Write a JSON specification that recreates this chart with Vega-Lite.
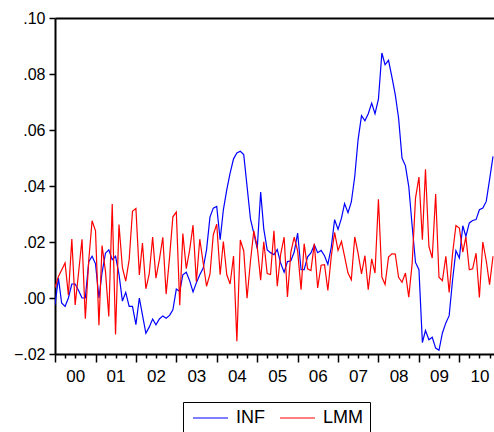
{
  "$schema": "https://vega.github.io/schema/vega-lite/v6.json",
  "width": 439,
  "height": 336,
  "autosize": "none",
  "padding": {"left": 55, "top": 18, "right": 0, "bottom": 78},
  "background": "white",
  "config": {
    "view": {"stroke": null},
    "font": "Liberation Sans",
    "axis": {"labelFont": "Liberation Sans", "labelColor": "black", "tickColor": "black", "domainColor": "black", "grid": false, "title": null}
  },
  "data": {"values": [
    {"date":"2000-01-01","series":"INF","value":-0.0024},{"date":"2000-02-01","series":"INF","value":0.0071},{"date":"2000-03-01","series":"INF","value":-0.0018},{"date":"2000-04-01","series":"INF","value":-0.003},{"date":"2000-05-01","series":"INF","value":0.0},{"date":"2000-06-01","series":"INF","value":0.005},{"date":"2000-07-01","series":"INF","value":0.005},{"date":"2000-08-01","series":"INF","value":0.0027},{"date":"2000-09-01","series":"INF","value":0.0},{"date":"2000-10-01","series":"INF","value":0.0},{"date":"2000-11-01","series":"INF","value":0.013},{"date":"2000-12-01","series":"INF","value":0.0149},
    {"date":"2001-01-01","series":"INF","value":0.0122},{"date":"2001-02-01","series":"INF","value":0.0},{"date":"2001-03-01","series":"INF","value":0.009},{"date":"2001-04-01","series":"INF","value":0.016},{"date":"2001-05-01","series":"INF","value":0.0172},{"date":"2001-06-01","series":"INF","value":0.0137},{"date":"2001-07-01","series":"INF","value":0.0149},{"date":"2001-08-01","series":"INF","value":0.0085},{"date":"2001-09-01","series":"INF","value":-0.0011},{"date":"2001-10-01","series":"INF","value":0.002},{"date":"2001-11-01","series":"INF","value":-0.003},{"date":"2001-12-01","series":"INF","value":-0.003},
    {"date":"2002-01-01","series":"INF","value":-0.0095},{"date":"2002-02-01","series":"INF","value":0.0},{"date":"2002-03-01","series":"INF","value":-0.006},{"date":"2002-04-01","series":"INF","value":-0.0126},{"date":"2002-05-01","series":"INF","value":-0.0104},{"date":"2002-06-01","series":"INF","value":-0.0075},{"date":"2002-07-01","series":"INF","value":-0.0096},{"date":"2002-08-01","series":"INF","value":-0.0075},{"date":"2002-09-01","series":"INF","value":-0.0064},{"date":"2002-10-01","series":"INF","value":-0.0072},{"date":"2002-11-01","series":"INF","value":-0.0062},{"date":"2002-12-01","series":"INF","value":-0.0042},
    {"date":"2003-01-01","series":"INF","value":0.0032},{"date":"2003-02-01","series":"INF","value":0.0023},{"date":"2003-03-01","series":"INF","value":0.0083},{"date":"2003-04-01","series":"INF","value":0.0092},{"date":"2003-05-01","series":"INF","value":0.0062},{"date":"2003-06-01","series":"INF","value":0.0022},{"date":"2003-07-01","series":"INF","value":0.0054},{"date":"2003-08-01","series":"INF","value":0.0083},{"date":"2003-09-01","series":"INF","value":0.0107},{"date":"2003-10-01","series":"INF","value":0.0172},{"date":"2003-11-01","series":"INF","value":0.0289},{"date":"2003-12-01","series":"INF","value":0.0321},
    {"date":"2004-01-01","series":"INF","value":0.0327},{"date":"2004-02-01","series":"INF","value":0.0208},{"date":"2004-03-01","series":"INF","value":0.0315},{"date":"2004-04-01","series":"INF","value":0.0387},{"date":"2004-05-01","series":"INF","value":0.0446},{"date":"2004-06-01","series":"INF","value":0.0497},{"date":"2004-07-01","series":"INF","value":0.0518},{"date":"2004-08-01","series":"INF","value":0.0524},{"date":"2004-09-01","series":"INF","value":0.0512},{"date":"2004-10-01","series":"INF","value":0.0399},{"date":"2004-11-01","series":"INF","value":0.0282},{"date":"2004-12-01","series":"INF","value":0.0232},
    {"date":"2005-01-01","series":"INF","value":0.0176},{"date":"2005-02-01","series":"INF","value":0.0378},{"date":"2005-03-01","series":"INF","value":0.0247},{"date":"2005-04-01","series":"INF","value":0.0172},{"date":"2005-05-01","series":"INF","value":0.0162},{"date":"2005-06-01","series":"INF","value":0.0155},{"date":"2005-07-01","series":"INF","value":0.0173},{"date":"2005-08-01","series":"INF","value":0.0124},{"date":"2005-09-01","series":"INF","value":0.0092},{"date":"2005-10-01","series":"INF","value":0.013},{"date":"2005-11-01","series":"INF","value":0.0133},{"date":"2005-12-01","series":"INF","value":0.0164},
    {"date":"2006-01-01","series":"INF","value":0.0232},{"date":"2006-02-01","series":"INF","value":0.0101},{"date":"2006-03-01","series":"INF","value":0.0101},{"date":"2006-04-01","series":"INF","value":0.0147},{"date":"2006-05-01","series":"INF","value":0.0161},{"date":"2006-06-01","series":"INF","value":0.019},{"date":"2006-07-01","series":"INF","value":0.0162},{"date":"2006-08-01","series":"INF","value":0.017},{"date":"2006-09-01","series":"INF","value":0.0151},{"date":"2006-10-01","series":"INF","value":0.012},{"date":"2006-11-01","series":"INF","value":0.0182},{"date":"2006-12-01","series":"INF","value":0.028},
    {"date":"2007-01-01","series":"INF","value":0.0245},{"date":"2007-02-01","series":"INF","value":0.0285},{"date":"2007-03-01","series":"INF","value":0.0337},{"date":"2007-04-01","series":"INF","value":0.0305},{"date":"2007-05-01","series":"INF","value":0.0343},{"date":"2007-06-01","series":"INF","value":0.0434},{"date":"2007-07-01","series":"INF","value":0.0565},{"date":"2007-08-01","series":"INF","value":0.0651},{"date":"2007-09-01","series":"INF","value":0.0633},{"date":"2007-10-01","series":"INF","value":0.0658},{"date":"2007-11-01","series":"INF","value":0.0696},{"date":"2007-12-01","series":"INF","value":0.0658},
    {"date":"2008-01-01","series":"INF","value":0.071},{"date":"2008-02-01","series":"INF","value":0.0875},{"date":"2008-03-01","series":"INF","value":0.0833},{"date":"2008-04-01","series":"INF","value":0.0849},{"date":"2008-05-01","series":"INF","value":0.0791},{"date":"2008-06-01","series":"INF","value":0.0726},{"date":"2008-07-01","series":"INF","value":0.0643},{"date":"2008-08-01","series":"INF","value":0.05},{"date":"2008-09-01","series":"INF","value":0.0472},{"date":"2008-10-01","series":"INF","value":0.0398},{"date":"2008-11-01","series":"INF","value":0.0256},{"date":"2008-12-01","series":"INF","value":0.0127},
    {"date":"2009-01-01","series":"INF","value":0.0101},{"date":"2009-02-01","series":"INF","value":-0.0159},{"date":"2009-03-01","series":"INF","value":-0.0116},{"date":"2009-04-01","series":"INF","value":-0.0149},{"date":"2009-05-01","series":"INF","value":-0.014},{"date":"2009-06-01","series":"INF","value":-0.0179},{"date":"2009-07-01","series":"INF","value":-0.0187},{"date":"2009-08-01","series":"INF","value":-0.0125},{"date":"2009-09-01","series":"INF","value":-0.0089},{"date":"2009-10-01","series":"INF","value":-0.0063},{"date":"2009-11-01","series":"INF","value":0.0065},{"date":"2009-12-01","series":"INF","value":0.0169},
    {"date":"2010-01-01","series":"INF","value":0.0143},{"date":"2010-02-01","series":"INF","value":0.0258},{"date":"2010-03-01","series":"INF","value":0.022},{"date":"2010-04-01","series":"INF","value":0.0268},{"date":"2010-05-01","series":"INF","value":0.0277},{"date":"2010-06-01","series":"INF","value":0.028},{"date":"2010-07-01","series":"INF","value":0.0315},{"date":"2010-08-01","series":"INF","value":0.0321},{"date":"2010-09-01","series":"INF","value":0.0345},{"date":"2010-10-01","series":"INF","value":0.0423},{"date":"2010-11-01","series":"INF","value":0.0506},
    {"date":"2000-01-01","series":"LMM","value":0.0037},{"date":"2000-02-01","series":"LMM","value":0.0077},{"date":"2000-03-01","series":"LMM","value":0.010},{"date":"2000-04-01","series":"LMM","value":0.0125},{"date":"2000-05-01","series":"LMM","value":0.001},{"date":"2000-06-01","series":"LMM","value":0.0211},{"date":"2000-07-01","series":"LMM","value":-0.0025},{"date":"2000-08-01","series":"LMM","value":0.009},{"date":"2000-09-01","series":"LMM","value":0.021},{"date":"2000-10-01","series":"LMM","value":-0.0074},{"date":"2000-11-01","series":"LMM","value":0.0135},{"date":"2000-12-01","series":"LMM","value":0.0276},
    {"date":"2001-01-01","series":"LMM","value":0.024},{"date":"2001-02-01","series":"LMM","value":-0.0097},{"date":"2001-03-01","series":"LMM","value":0.0187},{"date":"2001-04-01","series":"LMM","value":0.0095},{"date":"2001-05-01","series":"LMM","value":-0.0066},{"date":"2001-06-01","series":"LMM","value":0.0336},{"date":"2001-07-01","series":"LMM","value":-0.013},{"date":"2001-08-01","series":"LMM","value":0.0262},{"date":"2001-09-01","series":"LMM","value":0.0108},{"date":"2001-10-01","series":"LMM","value":0.006},{"date":"2001-11-01","series":"LMM","value":0.0137},{"date":"2001-12-01","series":"LMM","value":0.031},
    {"date":"2002-01-01","series":"LMM","value":0.032},{"date":"2002-02-01","series":"LMM","value":0.0082},{"date":"2002-03-01","series":"LMM","value":0.0196},{"date":"2002-04-01","series":"LMM","value":0.0033},{"date":"2002-05-01","series":"LMM","value":0.0085},{"date":"2002-06-01","series":"LMM","value":0.0218},{"date":"2002-07-01","series":"LMM","value":0.0071},{"date":"2002-08-01","series":"LMM","value":0.0137},{"date":"2002-09-01","series":"LMM","value":0.0217},{"date":"2002-10-01","series":"LMM","value":0.0014},{"date":"2002-11-01","series":"LMM","value":0.0145},{"date":"2002-12-01","series":"LMM","value":0.029},
    {"date":"2003-01-01","series":"LMM","value":0.0307},{"date":"2003-02-01","series":"LMM","value":-0.0026},{"date":"2003-03-01","series":"LMM","value":0.023},{"date":"2003-04-01","series":"LMM","value":0.0105},{"date":"2003-05-01","series":"LMM","value":0.017},{"date":"2003-06-01","series":"LMM","value":0.026},{"date":"2003-07-01","series":"LMM","value":0.0058},{"date":"2003-08-01","series":"LMM","value":0.021},{"date":"2003-09-01","series":"LMM","value":0.0125},{"date":"2003-10-01","series":"LMM","value":0.0042},{"date":"2003-11-01","series":"LMM","value":0.0085},{"date":"2003-12-01","series":"LMM","value":0.0226},
    {"date":"2004-01-01","series":"LMM","value":0.0264},{"date":"2004-02-01","series":"LMM","value":0.0083},{"date":"2004-03-01","series":"LMM","value":0.0202},{"date":"2004-04-01","series":"LMM","value":0.0083},{"date":"2004-05-01","series":"LMM","value":0.005},{"date":"2004-06-01","series":"LMM","value":0.015},{"date":"2004-07-01","series":"LMM","value":-0.0154},{"date":"2004-08-01","series":"LMM","value":0.0207},{"date":"2004-09-01","series":"LMM","value":0.0168},{"date":"2004-10-01","series":"LMM","value":-0.0001},{"date":"2004-11-01","series":"LMM","value":0.0132},{"date":"2004-12-01","series":"LMM","value":0.024},
    {"date":"2005-01-01","series":"LMM","value":0.0183},{"date":"2005-02-01","series":"LMM","value":0.0064},{"date":"2005-03-01","series":"LMM","value":0.0201},{"date":"2005-04-01","series":"LMM","value":0.0087},{"date":"2005-05-01","series":"LMM","value":0.0084},{"date":"2005-06-01","series":"LMM","value":0.024},{"date":"2005-07-01","series":"LMM","value":0.0042},{"date":"2005-08-01","series":"LMM","value":0.0157},{"date":"2005-09-01","series":"LMM","value":0.0217},{"date":"2005-10-01","series":"LMM","value":0.0004},{"date":"2005-11-01","series":"LMM","value":0.0164},{"date":"2005-12-01","series":"LMM","value":0.0217},
    {"date":"2006-01-01","series":"LMM","value":0.0168},{"date":"2006-02-01","series":"LMM","value":0.003},{"date":"2006-03-01","series":"LMM","value":0.0194},{"date":"2006-04-01","series":"LMM","value":0.0104},{"date":"2006-05-01","series":"LMM","value":0.0098},{"date":"2006-06-01","series":"LMM","value":0.0194},{"date":"2006-07-01","series":"LMM","value":0.0036},{"date":"2006-08-01","series":"LMM","value":0.0117},{"date":"2006-09-01","series":"LMM","value":0.0119},{"date":"2006-10-01","series":"LMM","value":0.0027},{"date":"2006-11-01","series":"LMM","value":0.0149},{"date":"2006-12-01","series":"LMM","value":0.0234},
    {"date":"2007-01-01","series":"LMM","value":0.017},{"date":"2007-02-01","series":"LMM","value":0.0202},{"date":"2007-03-01","series":"LMM","value":0.0149},{"date":"2007-04-01","series":"LMM","value":0.0089},{"date":"2007-05-01","series":"LMM","value":0.0065},{"date":"2007-06-01","series":"LMM","value":0.0218},{"date":"2007-07-01","series":"LMM","value":0.016},{"date":"2007-08-01","series":"LMM","value":0.0086},{"date":"2007-09-01","series":"LMM","value":0.0151},{"date":"2007-10-01","series":"LMM","value":0.003},{"date":"2007-11-01","series":"LMM","value":0.014},{"date":"2007-12-01","series":"LMM","value":0.0089},
    {"date":"2008-01-01","series":"LMM","value":0.0353},{"date":"2008-02-01","series":"LMM","value":0.0075},{"date":"2008-03-01","series":"LMM","value":0.0048},{"date":"2008-04-01","series":"LMM","value":0.0146},{"date":"2008-05-01","series":"LMM","value":0.0158},{"date":"2008-06-01","series":"LMM","value":0.0157},{"date":"2008-07-01","series":"LMM","value":0.0074},{"date":"2008-08-01","series":"LMM","value":0.0056},{"date":"2008-09-01","series":"LMM","value":0.0089},{"date":"2008-10-01","series":"LMM","value":0.0003},{"date":"2008-11-01","series":"LMM","value":0.0125},{"date":"2008-12-01","series":"LMM","value":0.0357},
    {"date":"2009-01-01","series":"LMM","value":0.0432},{"date":"2009-02-01","series":"LMM","value":0.0208},{"date":"2009-03-01","series":"LMM","value":0.046},{"date":"2009-04-01","series":"LMM","value":0.0184},{"date":"2009-05-01","series":"LMM","value":0.0143},{"date":"2009-06-01","series":"LMM","value":0.0371},{"date":"2009-07-01","series":"LMM","value":0.0074},{"date":"2009-08-01","series":"LMM","value":0.0062},{"date":"2009-09-01","series":"LMM","value":0.0149},{"date":"2009-10-01","series":"LMM","value":0.002},{"date":"2009-11-01","series":"LMM","value":0.016},{"date":"2009-12-01","series":"LMM","value":0.0259},
    {"date":"2010-01-01","series":"LMM","value":0.025},{"date":"2010-02-01","series":"LMM","value":0.0164},{"date":"2010-03-01","series":"LMM","value":0.0218},{"date":"2010-04-01","series":"LMM","value":0.0101},{"date":"2010-05-01","series":"LMM","value":0.0104},{"date":"2010-06-01","series":"LMM","value":0.016},{"date":"2010-07-01","series":"LMM","value":0.0002},{"date":"2010-08-01","series":"LMM","value":0.02},{"date":"2010-09-01","series":"LMM","value":0.0133},{"date":"2010-10-01","series":"LMM","value":0.0048},{"date":"2010-11-01","series":"LMM","value":0.0149}
  ]},
  "layer": [
    {
      "mark": {"type": "line", "strokeWidth": 1.2, "clip": true},
      "encoding": {
        "x": {
          "field": "date", "type": "temporal",
          "scale": {"type": "utc", "nice": false, "domain": [{"year": 2000, "month": 1, "date": 1, "utc": true}, {"year": 2010, "month": 11, "date": 10, "utc": true}]},
          "axis": {
            "orient": "bottom", "title": null, "labels": false, "tickSize": 8, "tickWidth": 1.5, "domainWidth": 2, "labelFlush": false,
            "values": [
              {"year": 2000, "month": 1, "utc": true}, {"year": 2001, "month": 1, "utc": true}, {"year": 2002, "month": 1, "utc": true},
              {"year": 2003, "month": 1, "utc": true}, {"year": 2004, "month": 1, "utc": true}, {"year": 2005, "month": 1, "utc": true},
              {"year": 2006, "month": 1, "utc": true}, {"year": 2007, "month": 1, "utc": true}, {"year": 2008, "month": 1, "utc": true},
              {"year": 2009, "month": 1, "utc": true}, {"year": 2010, "month": 1, "utc": true}
            ]
          }
        },
        "y": {
          "field": "value", "type": "quantitative",
          "scale": {"domain": [-0.02, 0.10], "nice": false, "zero": false},
          "axis": {
            "orient": "left", "title": null, "values": [-0.02, 0, 0.02, 0.04, 0.06, 0.08, 0.10],
            "labelExpr": "replace(format(datum.value, '.2f'), '0.', '.')",
            "tickSize": 6, "tickWidth": 1.5, "labelPadding": 4, "labelFontSize": 16, "domainWidth": 2
          }
        },
        "color": {
          "field": "series", "type": "nominal",
          "scale": {"domain": ["INF", "LMM"], "range": ["#0000ff", "#ff0000"]},
          "legend": {
            "orient": "none", "legendX": 128, "legendY": 384, "direction": "horizontal", "title": null,
            "symbolType": "M-1.2,0H5.8", "symbolSize": 100, "symbolStrokeWidth": 1,
            "labelFont": "Liberation Sans", "labelFontSize": 18, "labelColor": "black",
            "labelOffset": 28, "columnPadding": 12, "padding": 7,
            "strokeColor": "black", "fillColor": "white"
          }
        }
      }
    },
    {
      "mark": {"type": "rule", "opacity": 0},
      "encoding": {
        "x": {
          "field": "date", "type": "temporal",
          "axis": {
            "orient": "bottom", "title": null, "domain": false, "tickSize": 4, "tickWidth": 1.5,
            "labelExpr": "utcmonth(datum.value) == 6 ? utcFormat(datum.value, '%y') : ''",
            "labelOverlap": false, "labelFlush": false, "labelPadding": 10, "labelFontSize": 17,
            "values": [
              {"year": 2000, "month": 4, "utc": true}, {"year": 2000, "month": 7, "utc": true}, {"year": 2000, "month": 10, "utc": true},
              {"year": 2001, "month": 4, "utc": true}, {"year": 2001, "month": 7, "utc": true}, {"year": 2001, "month": 10, "utc": true},
              {"year": 2002, "month": 4, "utc": true}, {"year": 2002, "month": 7, "utc": true}, {"year": 2002, "month": 10, "utc": true},
              {"year": 2003, "month": 4, "utc": true}, {"year": 2003, "month": 7, "utc": true}, {"year": 2003, "month": 10, "utc": true},
              {"year": 2004, "month": 4, "utc": true}, {"year": 2004, "month": 7, "utc": true}, {"year": 2004, "month": 10, "utc": true},
              {"year": 2005, "month": 4, "utc": true}, {"year": 2005, "month": 7, "utc": true}, {"year": 2005, "month": 10, "utc": true},
              {"year": 2006, "month": 4, "utc": true}, {"year": 2006, "month": 7, "utc": true}, {"year": 2006, "month": 10, "utc": true},
              {"year": 2007, "month": 4, "utc": true}, {"year": 2007, "month": 7, "utc": true}, {"year": 2007, "month": 10, "utc": true},
              {"year": 2008, "month": 4, "utc": true}, {"year": 2008, "month": 7, "utc": true}, {"year": 2008, "month": 10, "utc": true},
              {"year": 2009, "month": 4, "utc": true}, {"year": 2009, "month": 7, "utc": true}, {"year": 2009, "month": 10, "utc": true},
              {"year": 2010, "month": 4, "utc": true}, {"year": 2010, "month": 7, "utc": true}, {"year": 2010, "month": 10, "utc": true}
            ]
          }
        }
      }
    },
    {
      "mark": {"type": "rule", "opacity": 0},
      "encoding": {
        "x": {
          "field": "date", "type": "temporal",
          "axis": {"orient": "top", "title": null, "labels": false, "ticks": false, "domain": true, "domainWidth": 2, "domainColor": "black"}
        }
      }
    }
  ],
  "resolve": {"axis": {"x": "independent"}}
}
